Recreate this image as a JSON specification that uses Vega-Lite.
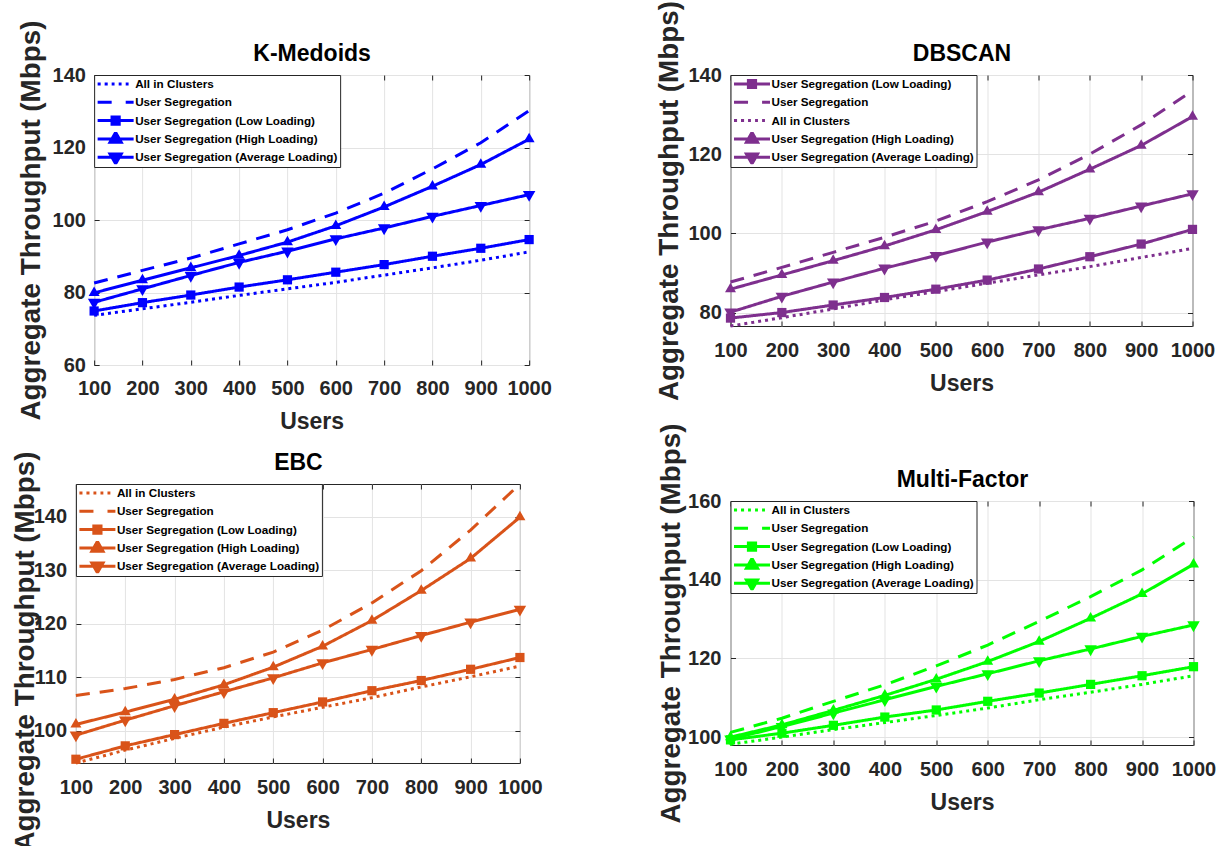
{
  "$schema": "https://vega.github.io/schema/vega-lite/v6.json",
  "background": "white",
  "padding": {"left": 10.5, "top": 0, "right": 0, "bottom": 0},
  "config": {
    "view": {"stroke": "#262626", "strokeWidth": 1},
    "axis": {
      "domain": false,
      "tickSize": -5,
      "tickColor": "#262626",
      "tickWidth": 1,
      "gridColor": "#e3e3e3",
      "gridWidth": 1,
      "labelFont": "Liberation Sans",
      "labelFontSize": 20,
      "labelFontWeight": "bold",
      "labelColor": "#262626",
      "labelOverlap": false,
      "labelFlush": false,
      "titleColor": "#262626",
      "titleFontWeight": "bold"
    },
    "axisBottom": {"titleFont": "Liberation Sans", "titleFontSize": 23, "format": "d"},
    "axisTop": {"titleFont": "Liberation Sans", "titleFontSize": 23, "titleColor": "#000000", "titlePadding": 8.7},
    "axisY": {"titleFont": "Liberation Sans", "titleFontSize": 27.8},
    "legend": {
      "orient": "top-left",
      "offset": 0,
      "padding": 2,
      "rowPadding": 4.3,
      "symbolSize": 1296,
      "symbolStrokeWidth": 3,
      "symbolOpacity": 1,
      "clipHeight": 14,
      "labelFont": "Liberation Sans",
      "labelFontSize": 11.7,
      "labelFontWeight": "bold",
      "labelColor": "#000000",
      "labelOffset": 0,
      "labelLimit": 400,
      "strokeColor": "#262626",
      "fillColor": "white"
    }
  },
  "datasets": {
    "kmedoids": [
      {"users": 100, "series": "All in Clusters", "value": 73.7},
      {"users": 200, "series": "All in Clusters", "value": 75.5},
      {"users": 300, "series": "All in Clusters", "value": 77.3},
      {"users": 400, "series": "All in Clusters", "value": 79.2},
      {"users": 500, "series": "All in Clusters", "value": 81.0},
      {"users": 600, "series": "All in Clusters", "value": 82.8},
      {"users": 700, "series": "All in Clusters", "value": 84.8},
      {"users": 800, "series": "All in Clusters", "value": 86.8},
      {"users": 900, "series": "All in Clusters", "value": 88.9},
      {"users": 1000, "series": "All in Clusters", "value": 91.2},
      {"users": 100, "series": "User Segregation", "value": 82.6},
      {"users": 200, "series": "User Segregation", "value": 86.1},
      {"users": 300, "series": "User Segregation", "value": 89.5},
      {"users": 400, "series": "User Segregation", "value": 93.4},
      {"users": 500, "series": "User Segregation", "value": 97.3},
      {"users": 600, "series": "User Segregation", "value": 101.9},
      {"users": 700, "series": "User Segregation", "value": 107.4},
      {"users": 800, "series": "User Segregation", "value": 114.1},
      {"users": 900, "series": "User Segregation", "value": 121.3},
      {"users": 1000, "series": "User Segregation", "value": 130.2},
      {"users": 100, "series": "User Segregation (Low Loading)", "value": 74.9},
      {"users": 200, "series": "User Segregation (Low Loading)", "value": 77.2},
      {"users": 300, "series": "User Segregation (Low Loading)", "value": 79.3},
      {"users": 400, "series": "User Segregation (Low Loading)", "value": 81.5},
      {"users": 500, "series": "User Segregation (Low Loading)", "value": 83.5},
      {"users": 600, "series": "User Segregation (Low Loading)", "value": 85.6},
      {"users": 700, "series": "User Segregation (Low Loading)", "value": 87.7},
      {"users": 800, "series": "User Segregation (Low Loading)", "value": 90.0},
      {"users": 900, "series": "User Segregation (Low Loading)", "value": 92.2},
      {"users": 1000, "series": "User Segregation (Low Loading)", "value": 94.6},
      {"users": 100, "series": "User Segregation (High Loading)", "value": 79.9},
      {"users": 200, "series": "User Segregation (High Loading)", "value": 83.4},
      {"users": 300, "series": "User Segregation (High Loading)", "value": 86.8},
      {"users": 400, "series": "User Segregation (High Loading)", "value": 90.2},
      {"users": 500, "series": "User Segregation (High Loading)", "value": 93.9},
      {"users": 600, "series": "User Segregation (High Loading)", "value": 98.4},
      {"users": 700, "series": "User Segregation (High Loading)", "value": 103.6},
      {"users": 800, "series": "User Segregation (High Loading)", "value": 109.3},
      {"users": 900, "series": "User Segregation (High Loading)", "value": 115.3},
      {"users": 1000, "series": "User Segregation (High Loading)", "value": 122.3},
      {"users": 100, "series": "User Segregation (Average Loading)", "value": 77.3},
      {"users": 200, "series": "User Segregation (Average Loading)", "value": 81.0},
      {"users": 300, "series": "User Segregation (Average Loading)", "value": 84.7},
      {"users": 400, "series": "User Segregation (Average Loading)", "value": 88.3},
      {"users": 500, "series": "User Segregation (Average Loading)", "value": 91.4},
      {"users": 600, "series": "User Segregation (Average Loading)", "value": 94.8},
      {"users": 700, "series": "User Segregation (Average Loading)", "value": 97.8},
      {"users": 800, "series": "User Segregation (Average Loading)", "value": 101.0},
      {"users": 900, "series": "User Segregation (Average Loading)", "value": 104.0},
      {"users": 1000, "series": "User Segregation (Average Loading)", "value": 107.0}
    ],
    "dbscan": [
      {"users": 100, "series": "User Segregation (Low Loading)", "value": 78.6},
      {"users": 200, "series": "User Segregation (Low Loading)", "value": 80.0},
      {"users": 300, "series": "User Segregation (Low Loading)", "value": 81.9},
      {"users": 400, "series": "User Segregation (Low Loading)", "value": 83.8},
      {"users": 500, "series": "User Segregation (Low Loading)", "value": 85.9},
      {"users": 600, "series": "User Segregation (Low Loading)", "value": 88.2},
      {"users": 700, "series": "User Segregation (Low Loading)", "value": 91.0},
      {"users": 800, "series": "User Segregation (Low Loading)", "value": 94.1},
      {"users": 900, "series": "User Segregation (Low Loading)", "value": 97.3},
      {"users": 1000, "series": "User Segregation (Low Loading)", "value": 101.0},
      {"users": 100, "series": "User Segregation", "value": 87.7},
      {"users": 200, "series": "User Segregation", "value": 91.4},
      {"users": 300, "series": "User Segregation", "value": 95.2},
      {"users": 400, "series": "User Segregation", "value": 99.0},
      {"users": 500, "series": "User Segregation", "value": 103.1},
      {"users": 600, "series": "User Segregation", "value": 108.0},
      {"users": 700, "series": "User Segregation", "value": 113.5},
      {"users": 800, "series": "User Segregation", "value": 120.0},
      {"users": 900, "series": "User Segregation", "value": 127.4},
      {"users": 1000, "series": "User Segregation", "value": 136.0},
      {"users": 100, "series": "All in Clusters", "value": 76.6},
      {"users": 200, "series": "All in Clusters", "value": 78.7},
      {"users": 300, "series": "All in Clusters", "value": 80.9},
      {"users": 400, "series": "All in Clusters", "value": 83.2},
      {"users": 500, "series": "All in Clusters", "value": 85.3},
      {"users": 600, "series": "All in Clusters", "value": 87.4},
      {"users": 700, "series": "All in Clusters", "value": 89.5},
      {"users": 800, "series": "All in Clusters", "value": 91.6},
      {"users": 900, "series": "All in Clusters", "value": 93.9},
      {"users": 1000, "series": "All in Clusters", "value": 96.2},
      {"users": 100, "series": "User Segregation (High Loading)", "value": 85.9},
      {"users": 200, "series": "User Segregation (High Loading)", "value": 89.5},
      {"users": 300, "series": "User Segregation (High Loading)", "value": 93.1},
      {"users": 400, "series": "User Segregation (High Loading)", "value": 96.8},
      {"users": 500, "series": "User Segregation (High Loading)", "value": 100.9},
      {"users": 600, "series": "User Segregation (High Loading)", "value": 105.5},
      {"users": 700, "series": "User Segregation (High Loading)", "value": 110.4},
      {"users": 800, "series": "User Segregation (High Loading)", "value": 116.2},
      {"users": 900, "series": "User Segregation (High Loading)", "value": 122.2},
      {"users": 1000, "series": "User Segregation (High Loading)", "value": 129.5},
      {"users": 100, "series": "User Segregation (Average Loading)", "value": 80.1},
      {"users": 200, "series": "User Segregation (Average Loading)", "value": 84.1},
      {"users": 300, "series": "User Segregation (Average Loading)", "value": 87.7},
      {"users": 400, "series": "User Segregation (Average Loading)", "value": 91.2},
      {"users": 500, "series": "User Segregation (Average Loading)", "value": 94.4},
      {"users": 600, "series": "User Segregation (Average Loading)", "value": 97.8},
      {"users": 700, "series": "User Segregation (Average Loading)", "value": 100.9},
      {"users": 800, "series": "User Segregation (Average Loading)", "value": 103.8},
      {"users": 900, "series": "User Segregation (Average Loading)", "value": 106.9},
      {"users": 1000, "series": "User Segregation (Average Loading)", "value": 110.0}
    ],
    "ebc": [
      {"users": 100, "series": "All in Clusters", "value": 94.0},
      {"users": 200, "series": "All in Clusters", "value": 96.4},
      {"users": 300, "series": "All in Clusters", "value": 98.6},
      {"users": 400, "series": "All in Clusters", "value": 100.7},
      {"users": 500, "series": "All in Clusters", "value": 102.6},
      {"users": 600, "series": "All in Clusters", "value": 104.4},
      {"users": 700, "series": "All in Clusters", "value": 106.2},
      {"users": 800, "series": "All in Clusters", "value": 108.2},
      {"users": 900, "series": "All in Clusters", "value": 110.1},
      {"users": 1000, "series": "All in Clusters", "value": 112.1},
      {"users": 100, "series": "User Segregation", "value": 106.6},
      {"users": 200, "series": "User Segregation", "value": 107.9},
      {"users": 300, "series": "User Segregation", "value": 109.6},
      {"users": 400, "series": "User Segregation", "value": 111.8},
      {"users": 500, "series": "User Segregation", "value": 114.7},
      {"users": 600, "series": "User Segregation", "value": 118.8},
      {"users": 700, "series": "User Segregation", "value": 123.9},
      {"users": 800, "series": "User Segregation", "value": 129.9},
      {"users": 900, "series": "User Segregation", "value": 137.5},
      {"users": 1000, "series": "User Segregation", "value": 146.1},
      {"users": 100, "series": "User Segregation (Low Loading)", "value": 94.7},
      {"users": 200, "series": "User Segregation (Low Loading)", "value": 97.2},
      {"users": 300, "series": "User Segregation (Low Loading)", "value": 99.3},
      {"users": 400, "series": "User Segregation (Low Loading)", "value": 101.4},
      {"users": 500, "series": "User Segregation (Low Loading)", "value": 103.4},
      {"users": 600, "series": "User Segregation (Low Loading)", "value": 105.4},
      {"users": 700, "series": "User Segregation (Low Loading)", "value": 107.5},
      {"users": 800, "series": "User Segregation (Low Loading)", "value": 109.4},
      {"users": 900, "series": "User Segregation (Low Loading)", "value": 111.5},
      {"users": 1000, "series": "User Segregation (Low Loading)", "value": 113.7},
      {"users": 100, "series": "User Segregation (High Loading)", "value": 101.2},
      {"users": 200, "series": "User Segregation (High Loading)", "value": 103.5},
      {"users": 300, "series": "User Segregation (High Loading)", "value": 105.9},
      {"users": 400, "series": "User Segregation (High Loading)", "value": 108.6},
      {"users": 500, "series": "User Segregation (High Loading)", "value": 111.9},
      {"users": 600, "series": "User Segregation (High Loading)", "value": 115.8},
      {"users": 700, "series": "User Segregation (High Loading)", "value": 120.6},
      {"users": 800, "series": "User Segregation (High Loading)", "value": 126.2},
      {"users": 900, "series": "User Segregation (High Loading)", "value": 132.2},
      {"users": 1000, "series": "User Segregation (High Loading)", "value": 139.9},
      {"users": 100, "series": "User Segregation (Average Loading)", "value": 99.2},
      {"users": 200, "series": "User Segregation (Average Loading)", "value": 102.0},
      {"users": 300, "series": "User Segregation (Average Loading)", "value": 104.7},
      {"users": 400, "series": "User Segregation (Average Loading)", "value": 107.3},
      {"users": 500, "series": "User Segregation (Average Loading)", "value": 109.9},
      {"users": 600, "series": "User Segregation (Average Loading)", "value": 112.7},
      {"users": 700, "series": "User Segregation (Average Loading)", "value": 115.2},
      {"users": 800, "series": "User Segregation (Average Loading)", "value": 117.8},
      {"users": 900, "series": "User Segregation (Average Loading)", "value": 120.3},
      {"users": 1000, "series": "User Segregation (Average Loading)", "value": 122.7}
    ],
    "multifactor": [
      {"users": 100, "series": "All in Clusters", "value": 98.2},
      {"users": 200, "series": "All in Clusters", "value": 100.0},
      {"users": 300, "series": "All in Clusters", "value": 101.9},
      {"users": 400, "series": "All in Clusters", "value": 103.7},
      {"users": 500, "series": "All in Clusters", "value": 105.5},
      {"users": 600, "series": "All in Clusters", "value": 107.4},
      {"users": 700, "series": "All in Clusters", "value": 109.5},
      {"users": 800, "series": "All in Clusters", "value": 111.4},
      {"users": 900, "series": "All in Clusters", "value": 113.4},
      {"users": 1000, "series": "All in Clusters", "value": 115.6},
      {"users": 100, "series": "User Segregation", "value": 101.2},
      {"users": 200, "series": "User Segregation", "value": 104.8},
      {"users": 300, "series": "User Segregation", "value": 109.1},
      {"users": 400, "series": "User Segregation", "value": 113.3},
      {"users": 500, "series": "User Segregation", "value": 118.1},
      {"users": 600, "series": "User Segregation", "value": 123.4},
      {"users": 700, "series": "User Segregation", "value": 129.4},
      {"users": 800, "series": "User Segregation", "value": 135.7},
      {"users": 900, "series": "User Segregation", "value": 142.5},
      {"users": 1000, "series": "User Segregation", "value": 150.8},
      {"users": 100, "series": "User Segregation (Low Loading)", "value": 99.3},
      {"users": 200, "series": "User Segregation (Low Loading)", "value": 101.0},
      {"users": 300, "series": "User Segregation (Low Loading)", "value": 103.0},
      {"users": 400, "series": "User Segregation (Low Loading)", "value": 105.1},
      {"users": 500, "series": "User Segregation (Low Loading)", "value": 106.9},
      {"users": 600, "series": "User Segregation (Low Loading)", "value": 109.1},
      {"users": 700, "series": "User Segregation (Low Loading)", "value": 111.2},
      {"users": 800, "series": "User Segregation (Low Loading)", "value": 113.4},
      {"users": 900, "series": "User Segregation (Low Loading)", "value": 115.6},
      {"users": 1000, "series": "User Segregation (Low Loading)", "value": 117.9},
      {"users": 100, "series": "User Segregation (High Loading)", "value": 100.0},
      {"users": 200, "series": "User Segregation (High Loading)", "value": 103.1},
      {"users": 300, "series": "User Segregation (High Loading)", "value": 106.8},
      {"users": 400, "series": "User Segregation (High Loading)", "value": 110.6},
      {"users": 500, "series": "User Segregation (High Loading)", "value": 114.7},
      {"users": 600, "series": "User Segregation (High Loading)", "value": 119.2},
      {"users": 700, "series": "User Segregation (High Loading)", "value": 124.3},
      {"users": 800, "series": "User Segregation (High Loading)", "value": 130.2},
      {"users": 900, "series": "User Segregation (High Loading)", "value": 136.4},
      {"users": 1000, "series": "User Segregation (High Loading)", "value": 143.9},
      {"users": 100, "series": "User Segregation (Average Loading)", "value": 99.5},
      {"users": 200, "series": "User Segregation (Average Loading)", "value": 102.7},
      {"users": 300, "series": "User Segregation (Average Loading)", "value": 106.1},
      {"users": 400, "series": "User Segregation (Average Loading)", "value": 109.5},
      {"users": 500, "series": "User Segregation (Average Loading)", "value": 112.9},
      {"users": 600, "series": "User Segregation (Average Loading)", "value": 116.1},
      {"users": 700, "series": "User Segregation (Average Loading)", "value": 119.4},
      {"users": 800, "series": "User Segregation (Average Loading)", "value": 122.4},
      {"users": 900, "series": "User Segregation (Average Loading)", "value": 125.6},
      {"users": 1000, "series": "User Segregation (Average Loading)", "value": 128.5}
    ]
  },
  "spacing": 84,
  "resolve": {"scale": {"strokeDash": "independent", "shape": "independent", "size": "independent"}, "legend": {"strokeDash": "independent", "shape": "independent", "size": "independent"}},
  "hconcat": [
    {
      "spacing": 15,
      "center": true,
      "resolve": {"scale": {"strokeDash": "independent", "shape": "independent", "size": "independent"}, "legend": {"strokeDash": "independent", "shape": "independent", "size": "independent"}},
      "vconcat": [
        {
          "width": 435,
          "height": 290,
          "data": {"name": "kmedoids"},
          "layer": [
            {
              "mark": {"type": "line", "color": "#0000ff", "strokeWidth": 3},
              "encoding": {
                "x": {"field": "users", "type": "quantitative", "scale": {"domain": [100, 1000], "nice": false, "zero": false},
                      "axis": {"values": [100, 200, 300, 400, 500, 600, 700, 800, 900, 1000], "title": "Users", "labelPadding": 18.1, "titlePadding": 12.7, "grid": true}},
                "y": {"field": "value", "type": "quantitative", "scale": {"domain": [60, 140], "nice": false, "zero": false},
                      "axis": {"values": [60, 80, 100, 120, 140], "title": "Aggregate Throughput (Mbps)", "labelPadding": 13.7, "titlePadding": 6.5, "grid": true}},
                "strokeDash": {"field": "series", "type": "nominal", "legend": null,
                  "scale": {"domain": ["All in Clusters", "User Segregation", "User Segregation (Low Loading)", "User Segregation (High Loading)", "User Segregation (Average Loading)"],
                            "range": [[3, 4], [14, 10], [1, 0], [1, 0], [1, 0]]}}
              }
            },
            {
              "transform": [{"filter": {"field": "series", "oneOf": ["User Segregation (Low Loading)", "User Segregation (High Loading)", "User Segregation (Average Loading)"]}}],
              "mark": {"type": "point", "filled": true, "color": "#0000ff", "opacity": 1},
              "encoding": {
                "x": {"field": "users", "type": "quantitative", "scale": {"domain": [100, 1000], "nice": false, "zero": false},
                      "axis": {"orient": "top", "values": [100, 200, 300, 400, 500, 600, 700, 800, 900, 1000], "labels": false, "title": "K-Medoids", "grid": false}},
                "y": {"field": "value", "type": "quantitative", "scale": {"domain": [60, 140], "nice": false, "zero": false},
                      "axis": {"orient": "right", "values": [60, 80, 100, 120, 140], "labels": false, "title": null, "grid": false}},
                "shape": {"field": "series", "type": "nominal", "legend": null,
                  "scale": {"domain": ["User Segregation (Low Loading)", "User Segregation (High Loading)", "User Segregation (Average Loading)"],
                            "range": ["square", "M0,-1.155L1,0.577H-1Z", "M0,1.155L1,-0.577H-1Z"]}},
                "size": {"field": "series", "type": "nominal", "legend": null,
                  "scale": {"domain": ["User Segregation (Low Loading)", "User Segregation (High Loading)", "User Segregation (Average Loading)"],
                            "range": [85, 156, 156]}}
              }
            },
            {
              "transform": [{"filter": "datum.users < 0"}],
              "mark": {"type": "point", "filled": false, "color": "#0000ff", "strokeWidth": 3, "opacity": 1, "size": 1296},
              "encoding": {
                "x": {"field": "users", "type": "quantitative", "axis": null},
                "y": {"field": "value", "type": "quantitative", "axis": null},
                "shape": {"field": "series", "type": "nominal",
                  "scale": {"domain": ["All in Clusters", "User Segregation", "User Segregation (Low Loading)", "User Segregation (High Loading)", "User Segregation (Average Loading)"],
                            "range": ["M-1,0H-0.83M-0.61,0H-0.44M-0.22,0H-0.06M0.17,0H0.33M0.56,0H0.72", "M-1,0H-0.22M0.56,0H1", "M-1,0H1M-0.2,-0.2H0.2V0.2H-0.2ZM-0.2,-0.1H0.2M-0.2,0.1H0.2", "M-1,0H1M0,-0.36L0.31,0.18H-0.31ZM-0.2,0.1H0.2M-0.1,-0.1H0.1M0,-0.3V0.18", "M-1,0H1M0,0.36L0.31,-0.18H-0.31ZM-0.2,-0.1H0.2M-0.1,0.1H0.1M0,0.3V-0.18"]},
                  "legend": {"title": null}}
              }
            }
          ],
          "resolve": {"axis": {"x": "independent", "y": "independent"}, "scale": {"shape": "independent"}, "legend": {"shape": "independent"}}
        },
        {
          "width": 444,
          "height": 279,
          "data": {"name": "ebc"},
          "layer": [
            {
              "mark": {"type": "line", "color": "#d95319", "strokeWidth": 3},
              "encoding": {
                "x": {"field": "users", "type": "quantitative", "scale": {"domain": [100, 1000], "nice": false, "zero": false},
                      "axis": {"values": [100, 200, 300, 400, 500, 600, 700, 800, 900, 1000], "title": "Users", "labelPadding": 19.4, "titlePadding": 12, "grid": true}},
                "y": {"field": "value", "type": "quantitative", "scale": {"domain": [94, 146.1], "nice": false, "zero": false},
                      "axis": {"values": [100, 110, 120, 130, 140], "title": "Aggregate Throughput (Mbps)", "labelPadding": 14.4, "titlePadding": -6.5, "titleY": 167, "grid": true}},
                "strokeDash": {"field": "series", "type": "nominal", "legend": null,
                  "scale": {"domain": ["All in Clusters", "User Segregation", "User Segregation (Low Loading)", "User Segregation (High Loading)", "User Segregation (Average Loading)"],
                            "range": [[3, 4], [14, 10], [1, 0], [1, 0], [1, 0]]}}
              }
            },
            {
              "transform": [{"filter": {"field": "series", "oneOf": ["User Segregation (Low Loading)", "User Segregation (High Loading)", "User Segregation (Average Loading)"]}}],
              "mark": {"type": "point", "filled": true, "color": "#d95319", "opacity": 1},
              "encoding": {
                "x": {"field": "users", "type": "quantitative", "scale": {"domain": [100, 1000], "nice": false, "zero": false},
                      "axis": {"orient": "top", "values": [100, 200, 300, 400, 500, 600, 700, 800, 900, 1000], "labels": false, "title": "EBC", "grid": false}},
                "y": {"field": "value", "type": "quantitative", "scale": {"domain": [94, 146.1], "nice": false, "zero": false},
                      "axis": {"orient": "right", "values": [100, 110, 120, 130, 140], "labels": true, "labelColor": "transparent", "labelPadding": 21.3, "title": null, "grid": false}},
                "shape": {"field": "series", "type": "nominal", "legend": null,
                  "scale": {"domain": ["User Segregation (Low Loading)", "User Segregation (High Loading)", "User Segregation (Average Loading)"],
                            "range": ["square", "M0,-1.155L1,0.577H-1Z", "M0,1.155L1,-0.577H-1Z"]}},
                "size": {"field": "series", "type": "nominal", "legend": null,
                  "scale": {"domain": ["User Segregation (Low Loading)", "User Segregation (High Loading)", "User Segregation (Average Loading)"],
                            "range": [85, 156, 156]}}
              }
            },
            {
              "transform": [{"filter": "datum.users < 0"}],
              "mark": {"type": "point", "filled": false, "color": "#d95319", "strokeWidth": 3, "opacity": 1, "size": 1296},
              "encoding": {
                "x": {"field": "users", "type": "quantitative", "axis": null},
                "y": {"field": "value", "type": "quantitative", "axis": null},
                "shape": {"field": "series", "type": "nominal",
                  "scale": {"domain": ["All in Clusters", "User Segregation", "User Segregation (Low Loading)", "User Segregation (High Loading)", "User Segregation (Average Loading)"],
                            "range": ["M-1,0H-0.83M-0.61,0H-0.44M-0.22,0H-0.06M0.17,0H0.33M0.56,0H0.72", "M-1,0H-0.22M0.56,0H1", "M-1,0H1M-0.2,-0.2H0.2V0.2H-0.2ZM-0.2,-0.1H0.2M-0.2,0.1H0.2", "M-1,0H1M0,-0.36L0.31,0.18H-0.31ZM-0.2,0.1H0.2M-0.1,-0.1H0.1M0,-0.3V0.18", "M-1,0H1M0,0.36L0.31,-0.18H-0.31ZM-0.2,-0.1H0.2M-0.1,0.1H0.1M0,0.3V-0.18"]},
                  "legend": {"title": null}}
              }
            }
          ],
          "resolve": {"axis": {"x": "independent", "y": "independent"}, "scale": {"shape": "independent"}, "legend": {"shape": "independent"}}
        }
      ]
    },
    {
      "spacing": 21,
      "resolve": {"scale": {"strokeDash": "independent", "shape": "independent", "size": "independent"}, "legend": {"strokeDash": "independent", "shape": "independent", "size": "independent"}},
      "vconcat": [
        {
          "width": 462,
          "height": 251,
          "data": {"name": "dbscan"},
          "layer": [
            {
              "mark": {"type": "line", "color": "#7e2f8e", "strokeWidth": 3},
              "encoding": {
                "x": {"field": "users", "type": "quantitative", "scale": {"domain": [100, 1000], "nice": false, "zero": false},
                      "axis": {"values": [100, 200, 300, 400, 500, 600, 700, 800, 900, 1000], "title": "Users", "labelPadding": 19.4, "titlePadding": 12, "grid": true}},
                "y": {"field": "value", "type": "quantitative", "scale": {"domain": [76.6, 140], "nice": false, "zero": false},
                      "axis": {"values": [80, 100, 120, 140], "title": "Aggregate Throughput (Mbps)", "labelPadding": 14.2, "titlePadding": 4.1, "grid": true}},
                "strokeDash": {"field": "series", "type": "nominal", "legend": null,
                  "scale": {"domain": ["User Segregation (Low Loading)", "User Segregation", "All in Clusters", "User Segregation (High Loading)", "User Segregation (Average Loading)"],
                            "range": [[1, 0], [14, 10], [3, 4], [1, 0], [1, 0]]}}
              }
            },
            {
              "transform": [{"filter": {"field": "series", "oneOf": ["User Segregation (Low Loading)", "User Segregation (High Loading)", "User Segregation (Average Loading)"]}}],
              "mark": {"type": "point", "filled": true, "color": "#7e2f8e", "opacity": 1},
              "encoding": {
                "x": {"field": "users", "type": "quantitative", "scale": {"domain": [100, 1000], "nice": false, "zero": false},
                      "axis": {"orient": "top", "values": [100, 200, 300, 400, 500, 600, 700, 800, 900, 1000], "labels": false, "title": "DBSCAN", "grid": false}},
                "y": {"field": "value", "type": "quantitative", "scale": {"domain": [76.6, 140], "nice": false, "zero": false},
                      "axis": {"orient": "right", "values": [80, 100, 120, 140], "labels": false, "title": null, "grid": false}},
                "shape": {"field": "series", "type": "nominal", "legend": null,
                  "scale": {"domain": ["User Segregation (Low Loading)", "User Segregation (High Loading)", "User Segregation (Average Loading)"],
                            "range": ["square", "M0,-1.155L1,0.577H-1Z", "M0,1.155L1,-0.577H-1Z"]}},
                "size": {"field": "series", "type": "nominal", "legend": null,
                  "scale": {"domain": ["User Segregation (Low Loading)", "User Segregation (High Loading)", "User Segregation (Average Loading)"],
                            "range": [85, 156, 156]}}
              }
            },
            {
              "transform": [{"filter": "datum.users < 0"}],
              "mark": {"type": "point", "filled": false, "color": "#7e2f8e", "strokeWidth": 3, "opacity": 1, "size": 1296},
              "encoding": {
                "x": {"field": "users", "type": "quantitative", "axis": null},
                "y": {"field": "value", "type": "quantitative", "axis": null},
                "shape": {"field": "series", "type": "nominal",
                  "scale": {"domain": ["User Segregation (Low Loading)", "User Segregation", "All in Clusters", "User Segregation (High Loading)", "User Segregation (Average Loading)"],
                            "range": ["M-1,0H1M-0.2,-0.2H0.2V0.2H-0.2ZM-0.2,-0.1H0.2M-0.2,0.1H0.2", "M-1,0H-0.22M0.56,0H1", "M-1,0H-0.83M-0.61,0H-0.44M-0.22,0H-0.06M0.17,0H0.33M0.56,0H0.72", "M-1,0H1M0,-0.36L0.31,0.18H-0.31ZM-0.2,0.1H0.2M-0.1,-0.1H0.1M0,-0.3V0.18", "M-1,0H1M0,0.36L0.31,-0.18H-0.31ZM-0.2,-0.1H0.2M-0.1,0.1H0.1M0,0.3V-0.18"]},
                  "legend": {"title": null}}
              }
            }
          ],
          "resolve": {"axis": {"x": "independent", "y": "independent"}, "scale": {"shape": "independent"}, "legend": {"shape": "independent"}}
        },
        {
          "width": 463,
          "height": 244,
          "data": {"name": "multifactor"},
          "layer": [
            {
              "mark": {"type": "line", "color": "#00ff00", "strokeWidth": 3},
              "encoding": {
                "x": {"field": "users", "type": "quantitative", "scale": {"domain": [100, 1000], "nice": false, "zero": false},
                      "axis": {"values": [100, 200, 300, 400, 500, 600, 700, 800, 900, 1000], "title": "Users", "labelPadding": 19, "titlePadding": 12.7, "grid": true}},
                "y": {"field": "value", "type": "quantitative", "scale": {"domain": [98, 160], "nice": false, "zero": false},
                      "axis": {"values": [100, 120, 140, 160], "title": "Aggregate Throughput (Mbps)", "labelPadding": 14.6, "titlePadding": 2.3, "grid": true}},
                "strokeDash": {"field": "series", "type": "nominal", "legend": null,
                  "scale": {"domain": ["All in Clusters", "User Segregation", "User Segregation (Low Loading)", "User Segregation (High Loading)", "User Segregation (Average Loading)"],
                            "range": [[3, 4], [14, 10], [1, 0], [1, 0], [1, 0]]}}
              }
            },
            {
              "transform": [{"filter": {"field": "series", "oneOf": ["User Segregation (Low Loading)", "User Segregation (High Loading)", "User Segregation (Average Loading)"]}}],
              "mark": {"type": "point", "filled": true, "color": "#00ff00", "opacity": 1},
              "encoding": {
                "x": {"field": "users", "type": "quantitative", "scale": {"domain": [100, 1000], "nice": false, "zero": false},
                      "axis": {"orient": "top", "values": [100, 200, 300, 400, 500, 600, 700, 800, 900, 1000], "labels": false, "title": "Multi-Factor", "grid": false}},
                "y": {"field": "value", "type": "quantitative", "scale": {"domain": [98, 160], "nice": false, "zero": false},
                      "axis": {"orient": "right", "values": [100, 120, 140, 160], "labels": false, "title": null, "grid": false}},
                "shape": {"field": "series", "type": "nominal", "legend": null,
                  "scale": {"domain": ["User Segregation (Low Loading)", "User Segregation (High Loading)", "User Segregation (Average Loading)"],
                            "range": ["square", "M0,-1.155L1,0.577H-1Z", "M0,1.155L1,-0.577H-1Z"]}},
                "size": {"field": "series", "type": "nominal", "legend": null,
                  "scale": {"domain": ["User Segregation (Low Loading)", "User Segregation (High Loading)", "User Segregation (Average Loading)"],
                            "range": [85, 156, 156]}}
              }
            },
            {
              "transform": [{"filter": "datum.users < 0"}],
              "mark": {"type": "point", "filled": false, "color": "#00ff00", "strokeWidth": 3, "opacity": 1, "size": 1296},
              "encoding": {
                "x": {"field": "users", "type": "quantitative", "axis": null},
                "y": {"field": "value", "type": "quantitative", "axis": null},
                "shape": {"field": "series", "type": "nominal",
                  "scale": {"domain": ["All in Clusters", "User Segregation", "User Segregation (Low Loading)", "User Segregation (High Loading)", "User Segregation (Average Loading)"],
                            "range": ["M-1,0H-0.83M-0.61,0H-0.44M-0.22,0H-0.06M0.17,0H0.33M0.56,0H0.72", "M-1,0H-0.22M0.56,0H1", "M-1,0H1M-0.2,-0.2H0.2V0.2H-0.2ZM-0.2,-0.1H0.2M-0.2,0.1H0.2", "M-1,0H1M0,-0.36L0.31,0.18H-0.31ZM-0.2,0.1H0.2M-0.1,-0.1H0.1M0,-0.3V0.18", "M-1,0H1M0,0.36L0.31,-0.18H-0.31ZM-0.2,-0.1H0.2M-0.1,0.1H0.1M0,0.3V-0.18"]},
                  "legend": {"title": null}}
              }
            }
          ],
          "resolve": {"axis": {"x": "independent", "y": "independent"}, "scale": {"shape": "independent"}, "legend": {"shape": "independent"}}
        }
      ]
    }
  ]
}
